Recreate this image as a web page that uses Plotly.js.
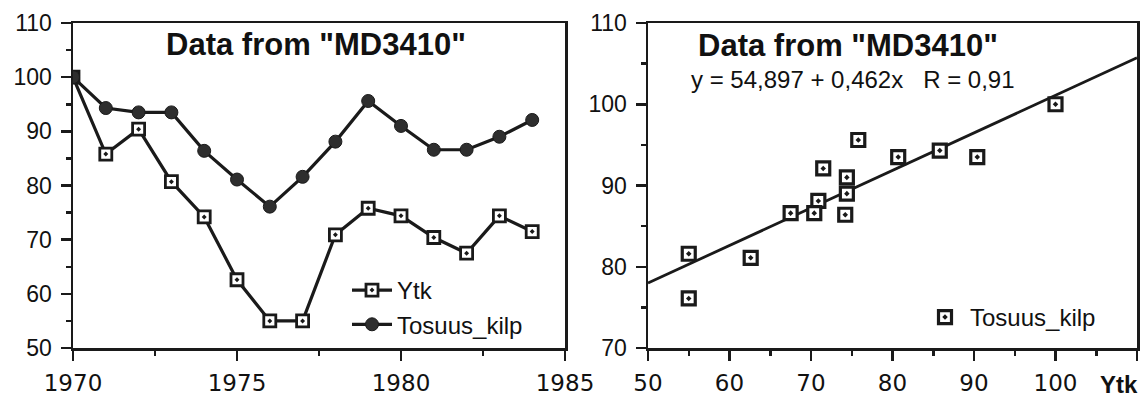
<!DOCTYPE html>
<html>
<head>
<meta charset="utf-8">
<script src="https://cdn.plot.ly/plotly-3.0.1.min.js"></script>
<style>html,body{margin:0;padding:0;background:#fff;}#chart{width:1145px;height:397px;}</style>
</head>
<body>
<div id="chart"></div>
<script>
// ---- data ----
const years = [1970, 1971, 1972, 1973, 1974, 1975, 1976, 1977, 1978, 1979, 1980, 1981, 1982, 1983, 1984];
const ytk = [100, 85.8, 90.4, 80.7, 74.2, 62.6, 55, 55, 70.9, 75.8, 74.4, 70.4, 67.5, 74.4, 71.5];
const tosuusKilp = [100, 94.3, 93.5, 93.5, 86.4, 81.1, 76.1, 81.6, 88.1, 95.6, 91.0, 86.6, 86.6, 89.0, 92.1];
const seriesNames = ["Ytk", "Tosuus_kilp"];
const titleText = 'Data from "MD3410"';
const equationText = "y = 54,897 + 0,462x   R = 0,91";
const fitIntercept = 54.897;
const fitSlope = 0.462;
const leftXTicks = [1970, 1975, 1980, 1985];
const leftXTickText = ["1970", "1975", "1980", "1985"];
const rightXTicks = [50, 60, 70, 80, 90, 100, 110];
const rightXTickText = ["50", "60", "70", "80", "90", "100", ""];
const rightXAxisLabel = "Ytk";
const leftYTicks = [50, 60, 70, 80, 90, 100, 110];
const rightYTicks = [70, 80, 90, 100, 110];

const fitX = [50, 110];
const fitY = fitX.map(v => fitIntercept + fitSlope * v);

const INK = '#1a1a1a';
const traces = [
  {
    x: years, y: ytk, name: seriesNames[0], type: 'scatter', mode: 'lines+markers',
    xaxis: 'x', yaxis: 'y', legend: 'legend',
    line: {color: INK, width: 3.2},
    marker: {symbol: 'square-dot', size: 12, color: '#fff', line: {color: INK, width: 2.8}}
  },
  {
    x: years, y: tosuusKilp, name: seriesNames[1], type: 'scatter', mode: 'lines+markers',
    xaxis: 'x', yaxis: 'y', legend: 'legend',
    line: {color: INK, width: 3.2},
    marker: {symbol: 'circle', size: 13, color: '#2e2e2e', line: {color: INK, width: 1}}
  },
  {
    x: fitX, y: fitY, type: 'scatter', mode: 'lines', showlegend: false,
    xaxis: 'x2', yaxis: 'y2', line: {color: INK, width: 2.8}, hoverinfo: 'skip'
  },
  {
    x: ytk, y: tosuusKilp, name: seriesNames[1], type: 'scatter', mode: 'markers',
    xaxis: 'x2', yaxis: 'y2', legend: 'legend2',
    marker: {symbol: 'square-dot', size: 13, color: '#fff', line: {color: INK, width: 3.2}}
  }
];

const tickFontY = {family: 'Liberation Sans, Arial, sans-serif', size: 23, color: '#111'};
const tickFontX = {family: 'DejaVu Sans, sans-serif', size: 23, color: '#111'};
const baseAxis = {
  showline: true, mirror: true, linecolor: INK, linewidth: 2.5,
  ticks: 'outside', ticklen: 10, tickwidth: 2.5, tickcolor: INK,
  showgrid: false, zeroline: false, fixedrange: true
};

const layout = {
  width: 1145, height: 397,
  margin: {l: 0, r: 0, t: 0, b: 0},
  paper_bgcolor: '#fff', plot_bgcolor: '#fff',
  showlegend: true,
  xaxis: Object.assign({}, baseAxis, {
    domain: [73/1145, 565/1145], range: [1970, 1985],
    tickmode: 'array', tickvals: leftXTicks, ticktext: leftXTickText,
    tickfont: tickFontX, ticklabelstandoff: 3,
    minor: {dtick: 2.5, ticks: 'outside', ticklen: 5, tickwidth: 2.5, tickcolor: INK, tick0: 1970},
    anchor: 'y'
  }),
  yaxis: Object.assign({}, baseAxis, {
    domain: [1 - 348/397, 1 - 23/397], range: [50, 110],
    tickmode: 'array', tickvals: leftYTicks, tickfont: tickFontY, ticklabelstandoff: 4,
    minor: {dtick: 5, ticks: 'outside', ticklen: 5, tickwidth: 2.5, tickcolor: INK, tick0: 50},
    anchor: 'x'
  }),
  xaxis2: Object.assign({}, baseAxis, {
    domain: [648/1145, 1137/1145], range: [50, 110],
    tickmode: 'array', tickvals: rightXTicks, ticktext: rightXTickText,
    tickfont: tickFontX, ticklabelstandoff: 3,
    minor: {dtick: 5, ticks: 'outside', ticklen: 5, tickwidth: 2.5, tickcolor: INK, tick0: 50},
    anchor: 'y2'
  }),
  yaxis2: Object.assign({}, baseAxis, {
    domain: [1 - 348/397, 1 - 23/397], range: [70, 110],
    tickmode: 'array', tickvals: rightYTicks, tickfont: tickFontY, ticklabelstandoff: 4,
    minor: {dtick: 5, ticks: 'outside', ticklen: 5, tickwidth: 2.5, tickcolor: INK, tick0: 70},
    anchor: 'x2'
  }),
  legend: {
    x: 347/1145, y: 1 - 268/397, xanchor: 'left', yanchor: 'top',
    bgcolor: 'rgba(0,0,0,0)', borderwidth: 0,
    font: {family: 'Liberation Sans, Arial, sans-serif', size: 24, color: '#111'},
    tracegroupgap: 0, itemwidth: 40
  },
  legend2: {
    x: 920/1145, y: 1 - 295/397, xanchor: 'left', yanchor: 'top',
    bgcolor: 'rgba(0,0,0,0)', borderwidth: 0,
    font: {family: 'Liberation Sans, Arial, sans-serif', size: 24, color: '#111'},
    itemwidth: 40
  },
  annotations: [
    {xref: 'paper', yref: 'paper', x: 316/1145, y: 1 - 44/397, xanchor: 'center', yanchor: 'middle',
     text: '<b>' + titleText + '</b>', showarrow: false,
     font: {family: 'Liberation Sans, Arial, sans-serif', size: 31, color: '#111'}},
    {xref: 'paper', yref: 'paper', x: 696/1145, y: 1 - 46/397, xanchor: 'left', yanchor: 'middle',
     text: '<b>' + titleText + '</b>', showarrow: false,
     font: {family: 'Liberation Sans, Arial, sans-serif', size: 31, color: '#111'}},
    {xref: 'paper', yref: 'paper', x: 689/1145, y: 1 - 79/397, xanchor: 'left', yanchor: 'middle',
     text: equationText.replace(/   /, '&nbsp;&nbsp;&nbsp;'), showarrow: false,
     font: {family: 'Liberation Sans, Arial, sans-serif', size: 24, color: '#111'}},
    {xref: 'paper', yref: 'paper', x: 1140/1145, y: 1 - 384/397, xanchor: 'right', yanchor: 'middle',
     text: '<b>' + rightXAxisLabel + '</b>', showarrow: false,
     font: {family: 'Liberation Sans, Arial, sans-serif', size: 24, color: '#111'}}
  ]
};

Plotly.newPlot('chart', traces, layout, {displayModeBar: false, staticPlot: true});
</script>
</body>
</html>
